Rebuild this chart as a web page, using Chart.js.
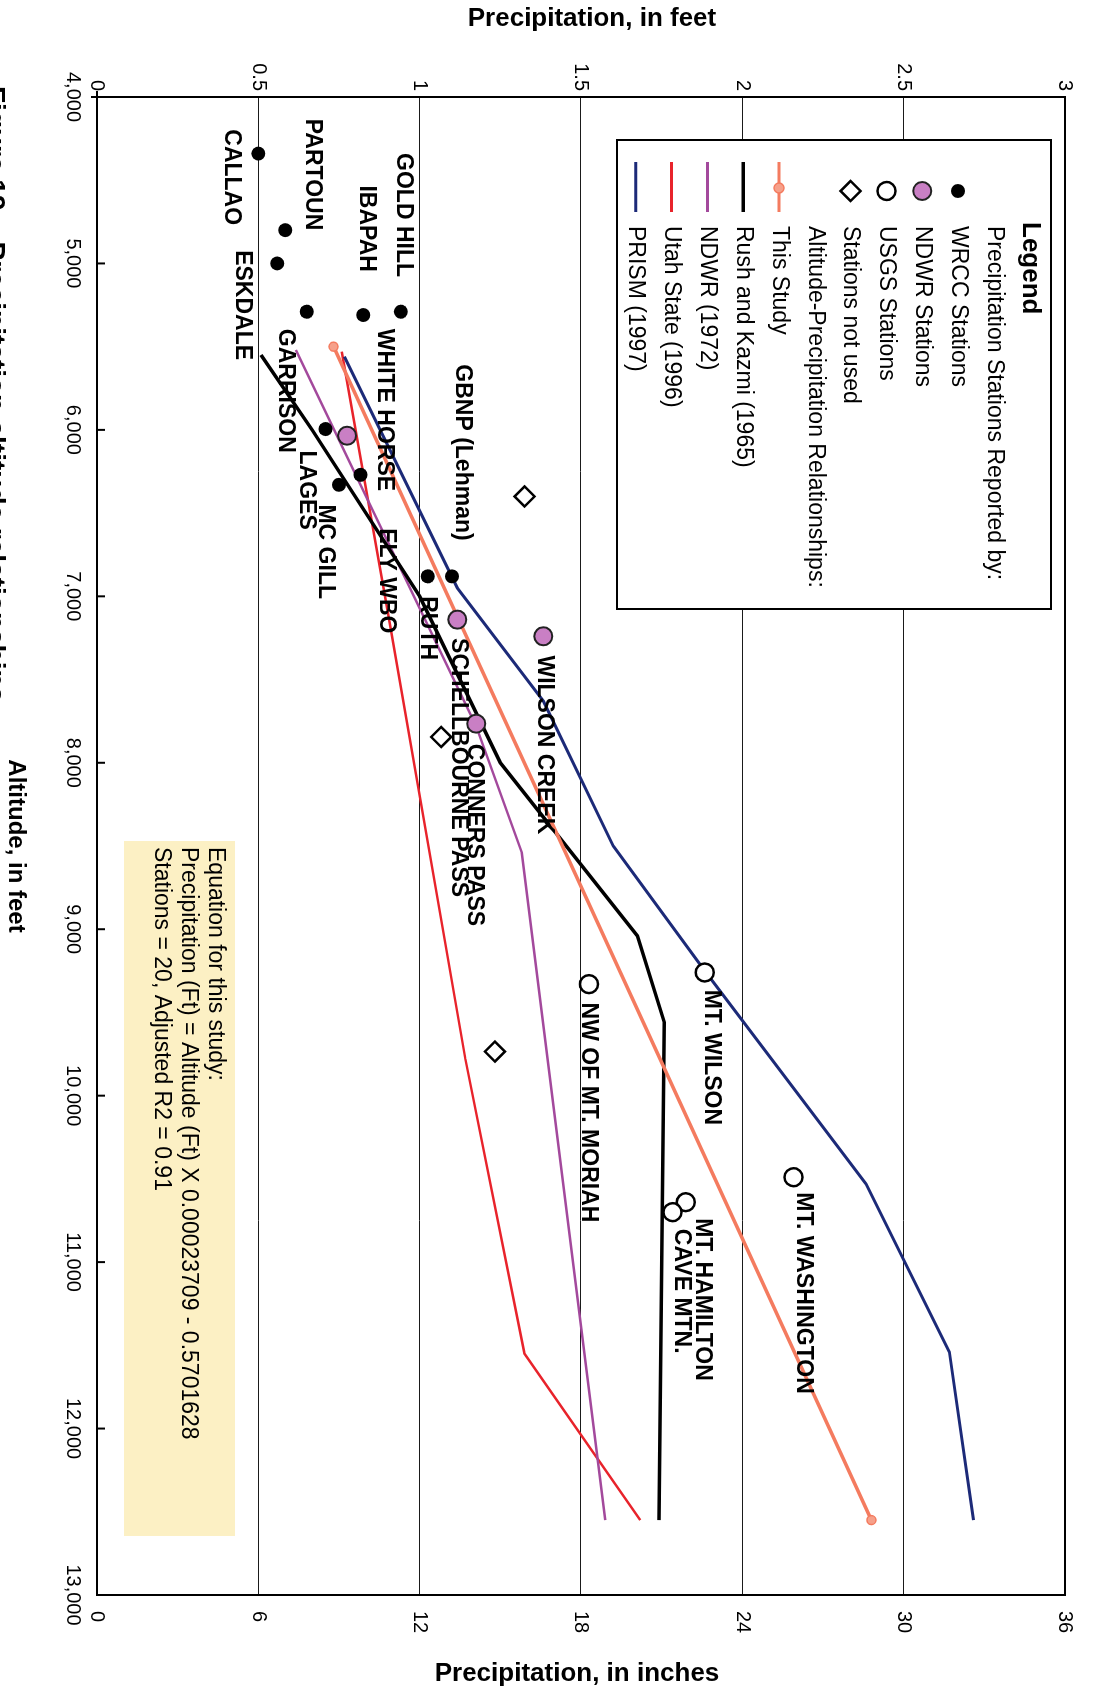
<!DOCTYPE html>
<html>
<head>
<meta charset="utf-8">
<title>Precipitation and altitude</title>
<script src="https://cdn.jsdelivr.net/npm/chart.js@4.4.1/dist/chart.umd.min.js"></script>
<style>
  html, body { margin:0; padding:0; background:#fff; overflow:hidden; }
  /* the figure is printed sideways: draw it landscape, then turn it a quarter clockwise */
  #wrap { position:absolute; left:0; top:0; width:1690px; height:1107px;
          transform-origin:0 0; transform:translate(1107px,0) rotate(90deg); }
</style>
</head>
<body>
<div id="wrap"><canvas id="chart" width="1690" height="1107"></canvas></div>
<script>
const FONT = '"Liberation Sans", Arial, Helvetica, sans-serif';

// axes
const altitudeTicks = [4000, 5000, 6000, 7000, 8000, 9000, 10000, 11000, 12000, 13000];
const feetTicks = [0, 0.5, 1, 1.5, 2, 2.5, 3];
const inchTicks = [0, 6, 12, 18, 24, 30, 36];

// stations: altitude (ft) / precipitation (in)
const wrccAlt = [4340, 4800, 5000, 5290, 5310, 5290, 5995, 6270, 6330, 6880, 6880];
const wrccIn  = [6.0, 7.0, 6.7, 7.8, 9.9, 11.3, 8.5, 9.8, 9.0, 12.3, 13.2];
const ndwrAlt = [6035, 7140, 7240, 7765];
const ndwrIn  = [9.3, 13.4, 16.6, 14.1];
const usgsAlt = [9260, 9330, 10490, 10640, 10700];
const usgsIn  = [22.6, 18.3, 25.9, 21.9, 21.4];
const unusedAlt = [6400, 7845, 9735];
const unusedIn  = [15.9, 12.8, 14.8];

// altitude-precipitation relationships
const thisStudyAlt = [5500, 12550];
const thisStudyIn  = [8.8, 28.8];
const rushKazmiAlt = [5550, 6000, 7000, 8000, 9040, 9560, 12550];
const rushKazmiIn  = [6.1, 8.0, 12.0, 15.0, 20.1, 21.1, 20.9];
const ndwr1972Alt = [5520, 7780, 8540, 12550];
const ndwr1972In  = [7.4, 14.1, 15.8, 18.9];
const utahAlt = [5530, 7170, 9780, 11550, 12550];
const utahIn  = [9.1, 10.9, 13.7, 15.9, 20.2];
const prismAlt = [5560, 6950, 7630, 8500, 9250, 10530, 11540, 12550];
const prismIn  = [9.2, 13.4, 16.6, 19.2, 22.6, 28.6, 31.7, 32.6];

// station names, anchored at start altitude / centre precipitation
const stationNames = ['CALLAO', 'PARTOUN', 'GOLD HILL', 'IBAPAH', 'ESKDALE', 'GARRISON', 'WHITE HORSE',
  'LAGES', 'MC GILL', 'ELY WBO', 'GBNP (Lehman)', 'RUTH', 'SCHELLBOURNE PASS', 'WILSON CREEK',
  'CONNERS PASS', 'NW OF MT. MORIAH', 'MT. WILSON', 'MT. WASHINGTON', 'MT. HAMILTON', 'CAVE MTN.'];
const labelAlt = [4194, 4130, 4337, 4531, 4920, 5393, 5393, 6124, 6448, 6591, 5606, 6999, 7251, 7355,
  7886, 9441, 9363, 10581, 10736, 10800];
const labelIn = [5.0, 8.0, 11.4, 10.0, 5.4, 7.0, 10.7, 7.8, 8.5, 10.75, 13.6, 12.27, 13.43, 16.64,
  14.03, 18.28, 22.85, 26.26, 22.53, 21.73];

const legendStations = ['WRCC Stations', 'NDWR Stations', 'USGS Stations', 'Stations not used'];
const legendLines = ['This Study', 'Rush and Kazmi (1965)', 'NDWR (1972)', 'Utah State (1996)', 'PRISM (1997)'];
const equationLines = ['Equation for this study:',
  'Precipitation (Ft) = Altitude (Ft) X 0.00023709 - 0.5701628',
  'Stations = 20, Adjusted R2 = 0.91'];

const colors = {
  ndwr: '#c97fc4', thisStudy: '#f47b5f', rush: '#000000',
  ndwr1972: '#a3499c', utah: '#e8232b', prism: '#1c2a78'
};

const toPts = (alts, ins) => alts.map((a, i) => ({ x: a, y: ins[i] }));
const fixedTicks = list => s => { s.ticks = list.map(v => ({ value: v })); };

function lineSet(label, alts, ins, color, width){
  return { label, data: toPts(alts, ins), showLine: true, borderColor: color, borderWidth: width,
    pointRadius: 0, yAxisID: 'yIn', tension: 0 };
}

function marker(ctx, kind, x, y){
  ctx.save();
  ctx.beginPath();
  if (kind === 0){ ctx.arc(x, y, 7, 0, Math.PI*2); ctx.fillStyle = '#000'; ctx.fill(); }
  else if (kind === 1){ ctx.arc(x, y, 9, 0, Math.PI*2); ctx.fillStyle = colors.ndwr; ctx.fill();
    ctx.lineWidth = 2; ctx.strokeStyle = '#222'; ctx.stroke(); }
  else if (kind === 2){ ctx.arc(x, y, 9, 0, Math.PI*2); ctx.fillStyle = '#fff'; ctx.fill();
    ctx.lineWidth = 2.5; ctx.strokeStyle = '#000'; ctx.stroke(); }
  else { ctx.moveTo(x, y-10); ctx.lineTo(x+10, y); ctx.lineTo(x, y+10); ctx.lineTo(x-10, y); ctx.closePath();
    ctx.fillStyle = '#fff'; ctx.fill(); ctx.lineWidth = 2.5; ctx.strokeStyle = '#000'; ctx.stroke(); }
  ctx.restore();
}

const overlay = {
  id: 'overlay',
  beforeDatasetsDraw(chart){
    const ctx = chart.ctx;
    ctx.save();
    ctx.fillStyle = '#fcf0c4';
    ctx.fillRect(841, 872, 695, 111);
    ctx.fillStyle = '#000';
    ctx.font = '23px ' + FONT;
    ctx.textBaseline = 'middle';
    equationLines.forEach((t, i) => ctx.fillText(t, 847, 892 + i*27));
    ctx.restore();
  },
  afterDraw(chart){
    const { ctx, chartArea: a, scales: { x, yIn } } = chart;
    ctx.save();
    ctx.textBaseline = 'middle';
    ctx.textAlign = 'left';
    ctx.fillStyle = '#000';

    // station names
    ctx.font = 'bold 23px ' + FONT;
    stationNames.forEach((n, i) => ctx.fillText(n, x.getPixelForValue(labelAlt[i]), yIn.getPixelForValue(labelIn[i])));

    // legend box
    ctx.fillStyle = '#fff';
    ctx.fillRect(140, 56, 469, 434);
    ctx.lineWidth = 2; ctx.strokeStyle = '#000';
    ctx.strokeRect(140, 56, 469, 434);
    ctx.fillStyle = '#000';
    ctx.font = 'bold 26px ' + FONT;
    ctx.fillText('Legend', 222, 77);
    ctx.font = '23px ' + FONT;
    ctx.fillText('Precipitation Stations Reported by:', 226, 113);
    legendStations.forEach((t, i) => {
      const y = 149 + i*35.8;
      marker(ctx, i, 191, y);
      ctx.fillStyle = '#000';
      ctx.fillText(t, 226, y);
    });
    ctx.fillText('Altitude-Precipitation Relationships:', 226, 292);
    const lineColors = [colors.thisStudy, colors.rush, colors.ndwr1972, colors.utah, colors.prism];
    legendLines.forEach((t, i) => {
      const y = 328 + i*35.8;
      ctx.beginPath(); ctx.moveTo(162, y); ctx.lineTo(212, y);
      ctx.lineWidth = i === 1 ? 3.5 : 3; ctx.strokeStyle = lineColors[i]; ctx.stroke();
      if (i === 0){ ctx.beginPath(); ctx.arc(188, y, 5, 0, Math.PI*2); ctx.fillStyle = '#f6a08a'; ctx.fill();
        ctx.lineWidth = 1.5; ctx.strokeStyle = colors.thisStudy; ctx.stroke(); }
      ctx.fillStyle = '#000';
      ctx.fillText(t, 226, y);
    });

    // plot frame and inward altitude ticks
    ctx.lineWidth = 2; ctx.strokeStyle = '#000';
    ctx.strokeRect(a.left, a.top, a.right - a.left, a.bottom - a.top);
    altitudeTicks.forEach(v => {
      const px = x.getPixelForValue(v);
      ctx.beginPath(); ctx.moveTo(px, a.bottom); ctx.lineTo(px, a.bottom - 8); ctx.stroke();
    });
    ctx.beginPath(); ctx.moveTo(a.left, a.bottom); ctx.lineTo(a.left, a.bottom + 6);
    ctx.moveTo(a.left - 6, a.bottom); ctx.lineTo(a.left, a.bottom); ctx.stroke();

    // axis titles
    ctx.font = 'bold 26px ' + FONT;
    ctx.textAlign = 'center';
    ctx.save(); ctx.translate(19, 515); ctx.rotate(-Math.PI/2);
    ctx.fillText('Precipitation, in feet', 0, 0); ctx.restore();
    ctx.save(); ctx.translate(1674, 530); ctx.rotate(-Math.PI/2);
    ctx.fillText('Precipitation, in inches', 0, 0); ctx.restore();
    ctx.font = 'bold 24px ' + FONT;
    ctx.fillText('Altitude, in feet', (a.left + a.right)/2, 1091);

    // figure caption, mostly cut off at the page edge
    ctx.textAlign = 'left'; ctx.textBaseline = 'alphabetic';
    ctx.font = 'bold 28px ' + FONT;
    ctx.fillText('Figure 19.   Precipitation-altitude relationships', 86, 1121);
    ctx.restore();
  }
};

new Chart(document.getElementById('chart'), {
  type: 'scatter',
  data: {
    datasets: [
      { label: 'WRCC Stations', data: toPts(wrccAlt, wrccIn), yAxisID: 'yIn', pointStyle: 'circle',
        pointRadius: 7, backgroundColor: '#000', borderColor: '#000', borderWidth: 0 },
      { label: 'NDWR Stations', data: toPts(ndwrAlt, ndwrIn), yAxisID: 'yIn', pointStyle: 'circle',
        pointRadius: 9, backgroundColor: colors.ndwr, borderColor: '#222', borderWidth: 2 },
      { label: 'USGS Stations', data: toPts(usgsAlt, usgsIn), yAxisID: 'yIn', pointStyle: 'circle',
        pointRadius: 9, backgroundColor: '#fff', borderColor: '#000', borderWidth: 2.5 },
      { label: 'Stations not used', data: toPts(unusedAlt, unusedIn), yAxisID: 'yIn', pointStyle: 'rectRot',
        pointRadius: 10, backgroundColor: '#fff', borderColor: '#000', borderWidth: 2.5 },
      Object.assign(lineSet('This Study', thisStudyAlt, thisStudyIn, colors.thisStudy, 3.5),
        { pointRadius: 4.5, pointBackgroundColor: '#f6a08a', pointBorderColor: colors.thisStudy, pointBorderWidth: 1.5 }),
      lineSet('Rush and Kazmi (1965)', rushKazmiAlt, rushKazmiIn, colors.rush, 3.5),
      lineSet('PRISM (1997)', prismAlt, prismIn, colors.prism, 3),
      lineSet('NDWR (1972)', ndwr1972Alt, ndwr1972In, colors.ndwr1972, 2.5),
      lineSet('Utah State (1996)', utahAlt, utahIn, colors.utah, 2.5)
    ]
  },
  options: {
    responsive: false,
    animation: false,
    events: [],
    layout: { padding: { top: 42, left: 0, right: 0, bottom: 0 } },
    plugins: { legend: { display: false }, tooltip: { enabled: false } },
    scales: {
      x: {
        type: 'linear', position: 'bottom', min: 4000, max: 13000,
        afterBuildTicks: fixedTicks(altitudeTicks),
        afterFit: s => { s.height = 97; },
        ticks: { callback: v => v.toLocaleString('en-US'), font: { family: FONT, size: 20 }, color: '#000',
          padding: 12, maxRotation: 0, autoSkip: false },
        grid: { display: false, drawTicks: false }, border: { display: false }
      },
      yFt: {
        type: 'linear', position: 'left', min: 0, max: 3,
        afterBuildTicks: fixedTicks(feetTicks),
        afterFit: s => { s.width = 97; },
        ticks: { callback: v => String(v), font: { family: FONT, size: 20 }, color: '#000', padding: 6 },
        grid: { color: '#1a1a1a', lineWidth: 1, drawTicks: false }, border: { display: false }
      },
      yIn: {
        type: 'linear', position: 'right', min: 0, max: 36,
        afterBuildTicks: fixedTicks(inchTicks),
        afterFit: s => { s.width = 95; },
        ticks: { callback: v => String(v), font: { family: FONT, size: 20 }, color: '#000', padding: 16 },
        grid: { display: false, drawTicks: false }, border: { display: false }
      }
    }
  },
  plugins: [overlay]
});
</script>
</body>
</html>
